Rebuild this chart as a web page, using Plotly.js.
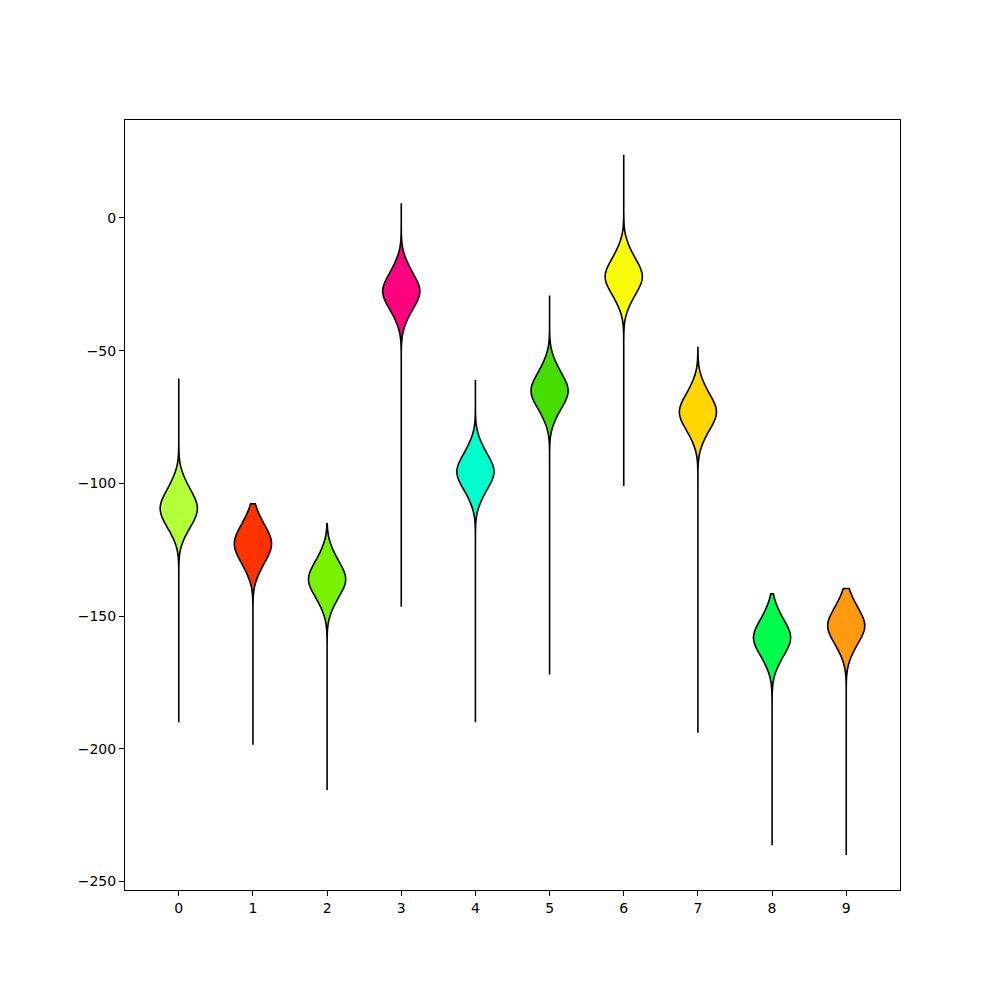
<!DOCTYPE html>
<html>
<head>
<meta charset="utf-8">
<script src="https://cdn.plot.ly/plotly-3.0.1.min.js"></script>
<style>
  body { margin: 0; background: #fff; }
  #chart { width: 1000px; height: 1000px; }
</style>
</head>
<body>
<div id="chart"></div>
<script>
// positions of the violins on the x axis
const positions = [0, 1, 2, 3, 4, 5, 6, 7, 8, 9];

// samples (body of each violin)
const samples0 = [-98, -101, -103, -104.5, -106, -107.5, -108, -109, -109.5, -110.5, -111.5, -112.5, -114, -115.5, -117, -120];
const samples1 = [-111.5, -114.5, -116.5, -118, -119.5, -120.5, -121.5, -122.5, -123, -124, -125, -126, -127.5, -129, -131, -134];
const samples2 = [-125, -128, -130, -131.5, -133, -134, -135, -136, -136.5, -137, -138, -139, -140.5, -142, -144, -147];
const samples3 = [-16.5, -19.5, -21.5, -23, -24.5, -25.5, -26.5, -27.5, -28, -28.5, -29.5, -30.5, -32, -33.5, -35.5, -38.5];
const samples4 = [-84.5, -87.5, -89.5, -91, -92.5, -93.5, -94.5, -95.5, -96, -96.5, -97.5, -98.5, -100, -101.5, -103.5, -106.5];
const samples5 = [-54, -57, -59, -60.5, -62, -63, -64, -65, -65.5, -66, -67, -68, -69.5, -71, -73, -76];
const samples6 = [-11, -14, -16, -17.5, -19, -20, -21, -22, -22.5, -23, -24, -25, -26.5, -28, -30, -33];
const samples7 = [-62, -65, -67, -68.5, -70, -71, -72, -73, -73.5, -74, -75, -76, -77.5, -79, -81, -84];
const samples8 = [-147, -150, -152, -153.5, -155, -156, -157, -158, -158.5, -159, -160, -161, -162.5, -164, -166, -169];
const samples9 = [-142.5, -145.5, -147.5, -149, -150.5, -151.5, -152.5, -153.5, -154, -154.5, -155.5, -156.5, -158, -159.5, -161.5, -164.5];

// extremes of each violin (ends of the thin tails)
const lows = [-190, -198.5, -215.5, -146.5, -190, -172, -101, -194, -236.3, -240];
const highs = [-60.5, -107.7, -115.2, 5.5, -61, -29.2, 23.8, -48.8, -141.6, -139.6];

const colors = ["#b2ff3a", "#ff3300", "#79f200", "#ff007f", "#00ffcc",
                "#46dd00", "#f8fc08", "#ffd600", "#00ff4c", "#ff9a0e"];

const tickLabels = ["0", "1", "2", "3", "4", "5", "6", "7", "8", "9"];

const allSamples = [samples0, samples1, samples2, samples3, samples4,
                    samples5, samples6, samples7, samples8, samples9];

let data = [];
for (let i = 0; i < allSamples.length; i++) {
  data.push({
    type: "violin",
    y: allSamples[i],
    x0: positions[i],
    name: tickLabels[i],
    width: 0.5,
    scalemode: "width",
    bandwidth: 4.3,
    spanmode: "manual",
    span: [lows[i], highs[i]],
    points: false,
    box: { visible: false },
    meanline: { visible: false },
    fillcolor: colors[i],
    opacity: 1,
    line: { color: "#000000", width: 1.6 },
    hoverinfo: "skip"
  });
}

const axisStyle = {
  showgrid: false,
  zeroline: false,
  showline: true,
  mirror: true,
  linecolor: "#000000",
  linewidth: 1,
  ticks: "outside",
  ticklen: 5,
  tickwidth: 1,
  tickcolor: "#000000",
  tickfont: { family: "DejaVu Sans", size: 14, color: "#000000" }
};

const layout = {
  width: 1000,
  height: 1000,
  showlegend: false,
  paper_bgcolor: "#ffffff",
  plot_bgcolor: "#ffffff",
  margin: { l: 125, r: 100, t: 120, b: 110 },
  xaxis: Object.assign({}, axisStyle, {
    range: [-0.725, 9.725],
    tickvals: positions,
    ticktext: tickLabels
  }),
  yaxis: Object.assign({}, axisStyle, {
    range: [-253.2, 36.9],
    tickvals: [0, -50, -100, -150, -200, -250]
  })
};

Plotly.newPlot("chart", data, layout, { displayModeBar: false, staticPlot: true });
</script>
</body>
</html>
